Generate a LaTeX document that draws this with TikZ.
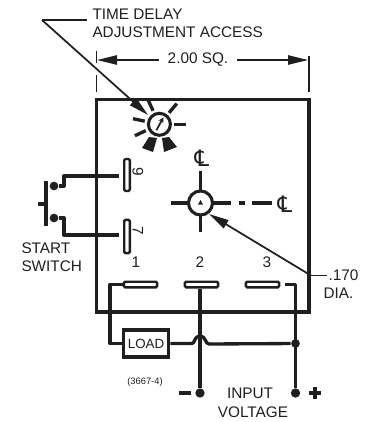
\documentclass[tikz,border=0pt]{standalone}
\usepackage{fontspec}
\setmainfont{Liberation Sans}
\newfontfamily\clfont{DejaVu Sans}
\usetikzlibrary{arrows.meta}
\definecolor{inkgray}{rgb}{0.12,0.12,0.12}
\tikzset{every picture/.style={line width=0.75pt}}
\tikzset{
  wire/.style={line width=2.5pt,color=inkgray,line join=round},
  case line/.style={line width=2.3pt,color=inkgray,line join=miter},
  dim line/.style={line width=1.3pt,color=inkgray},
  big head/.style={-{Triangle[length=15pt,width=7pt]}},
  label text/.style={anchor=west,inner sep=0.75pt,align=left,font=\fontsize{11.5pt}{13pt}\selectfont,color=inkgray},
  pin text/.style={inner sep=0.75pt,font=\fontsize{11.5pt}{13pt}\selectfont,color=inkgray},
  terminal/.style={draw=inkgray,line width=1.8pt,fill=white,rounded corners=1pt,inner sep=0pt},
  contact/.style={circle,fill=inkgray,inner sep=0pt,minimum size=6.5pt},
}
\newcommand{\centermark}[1]{\node[pin text,font=\clfont\fontsize{17pt}{18pt}\selectfont] at (#1) {℄};}

\begin{document}
\begin{tikzpicture}[x=0.75pt,y=0.75pt,yscale=-1,xscale=1]
\useasboundingbox (0,0) rectangle (365,422);

%Case
\draw [case line] (96.5,99.5) rectangle (309,312);

%Dimension
\draw [dim line] (96.5,51) -- (96.5,63) (96.5,75) -- (96.5,92);
\draw [dim line] (308.7,56) -- (308.7,92);
\draw [dim line,big head] (159,60) -- (97,60);
\draw [dim line,big head] (237,60) -- (308,60);
\node [pin text] (dimtext) at (198,60) {2.00 SQ.};

%Time delay dial
\coordinate (dial) at (159.4,124.3);
\draw [case line] (dial) circle (11);
\draw [dim line,-{Stealth[length=4pt,width=4pt]}] (dial) ++(-3,6) -- ++(7,-13);
\foreach \ang in {-115,-50,0,-168,155}
  \draw [wire] (dial) ++(\ang:15) -- ++(\ang:12);
\fill [color=inkgray] (149,137) -- (157,138) -- (153,152) -- (142,148) -- cycle;
\fill [color=inkgray] (162,138) -- (169,137) -- (177,147) -- (164,152) -- cycle;

%Leader to dial
\node [label text] (delaytext) at (91,14.5) {TIME DELAY};
\node [label text] (accesstext) at (91,32) {ADJUSTMENT ACCESS};
\coordinate (lead) at (42,20);
\draw [dim line] (87,20) -- (lead);
\draw [dim line,big head] (lead) -- (148,115);

%Hole
\coordinate (hole) at (200.5,203);
\draw [case line] (hole) circle (12);
\fill [color=inkgray] (hole) ++(-2.5,1.5) -- ++(5,0) -- ++(-2.5,-4.5) -- cycle;
\draw [wire] (200.5,171) -- (200.5,191) (200.5,215) -- (200.5,232);
\draw [wire] (171,203) -- (188.5,203) (212.5,203) -- (231,203);
\draw [wire] (239,203) -- (245,203) (252,203) -- (272,203);
\centermark{202,158}
\centermark{285,204}

%Leader to hole
\node [label text] (dia1) at (327,275.5) {.170};
\node [label text] (dia2) at (322,293) {DIA.};
\coordinate (kink) at (311,275.5);
\draw [dim line,big head] (kink) -- (209,214);
\draw [dim line] (kink) -- (dia1.west);

%Terminals
\node [terminal,minimum width=4.2pt,minimum height=24pt] (t9) at (127,175) {};
\node [terminal,minimum width=4.2pt,minimum height=25pt] (t7) at (127,236.5) {};
\node [terminal,minimum width=25pt,minimum height=4.2pt] (t1) at (140.5,284.5) {};
\node [terminal,minimum width=25pt,minimum height=4.2pt] (t2) at (201.5,284.5) {};
\node [terminal,minimum width=25pt,minimum height=4.2pt] (t3) at (262.5,284.5) {};
\node [pin text,rotate=-90] (n9) at (138,172) {9};
\node [pin text,rotate=-90] (n7) at (138,231) {7};
\node [pin text] (n1) at (136,262) {1};
\node [pin text] (n2) at (200,262) {2};
\node [pin text] (n3) at (267,262) {3};

%Start switch
\node [contact] (c9) at (54,186) {};
\node [contact] (c7) at (54,218) {};
\draw [wire] (46,181) -- (46,226);
\draw [wire] (38,204) -- (46,204);
\draw [wire] (119,176) -- (64,176) -- (64,186) -- (c9);
\draw [wire] (119,235) -- (64,235) -- (64,218) -- (c7);
\node [label text] (starttext) at (20,248) {START};
\node [label text] (switchtext) at (20,266.5) {SWITCH};

%Load and input
\node [draw=inkgray,line width=2.6pt,minimum width=34pt,minimum height=20pt,inner sep=0pt,font=\fontsize{10pt}{12pt}\selectfont,text=inkgray] (load) at (146,343.5) {LOAD};
\node [contact,minimum size=7pt] (minus) at (200,393) {};
\node [contact,minimum size=7pt] (plus) at (295.5,393) {};
\node [contact] (tee) at (295.5,343.5) {};
\draw [wire] (t1.west) -- (110,284.5) -- (110,343.5) -- (load.west);
\draw [wire] (t2.south -| minus) -- (minus);
\draw [wire] (285,284.5) -- (295.5,284.5) -- (plus);
\draw [wire] (load.east) -- (192,343.5) .. controls (195,343.5) and (194,336) .. (200,336) .. controls (206,336) and (205,344) .. (209,344) -- (tee);
\draw [wire] (179,393) -- (191,393);
\draw [line width=3pt,color=inkgray] (309,393) -- (321,393) (315,387) -- (315,399);
\node [pin text] (inputtext) at (250,393) {INPUT};
\node [pin text] (voltagetext) at (253,412) {VOLTAGE};
\node [pin text,font=\fontsize{7pt}{8pt}\selectfont] (parttext) at (145,382) {(3667-4)};
\end{tikzpicture}
\end{document}
